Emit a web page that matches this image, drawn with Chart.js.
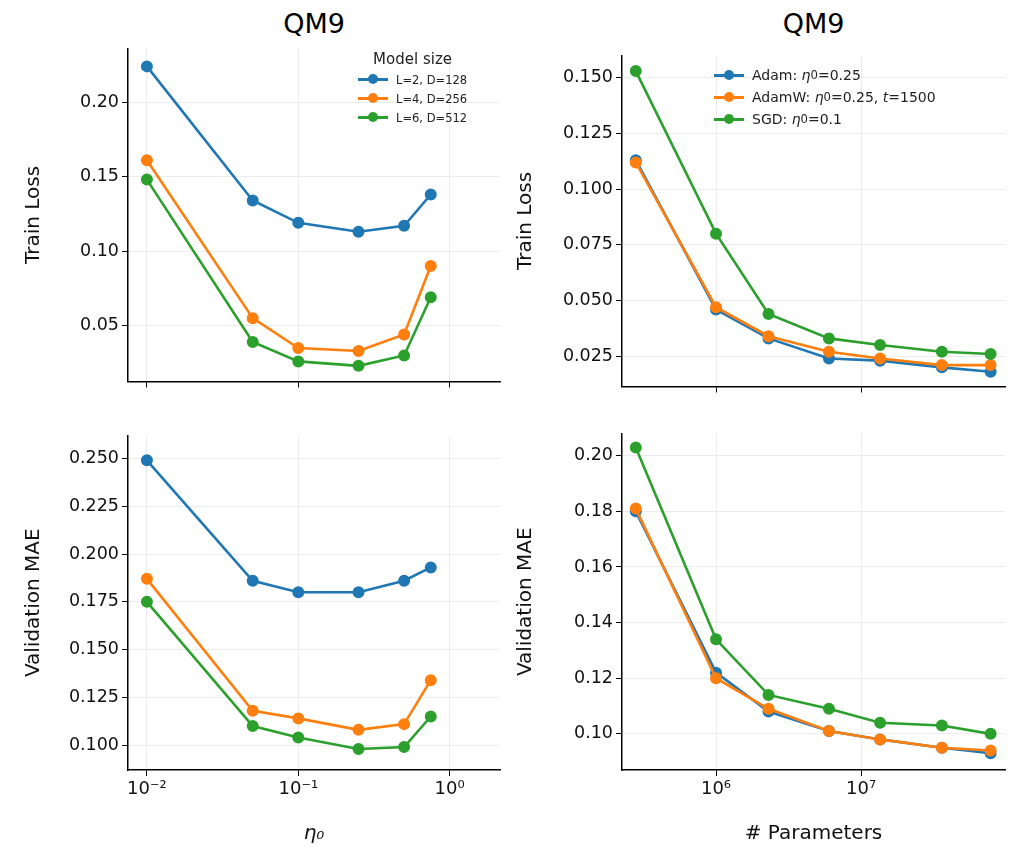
<!DOCTYPE html>
<html>
<head>
<meta charset="utf-8">
<script src="https://cdn.jsdelivr.net/npm/chart.js@4"></script>
<style>
  body { margin: 0; background: #fff; font-family: "DejaVu Sans", sans-serif; }
  #wrap { position: relative; width: 1024px; height: 857px; }
  canvas { position: absolute; }
  .title { position: absolute; top: 8px; font-size: 27px; text-align: center; }
  .legend { position: absolute; font-size: 13px; color: #222; }
  .legend .row { display: flex; align-items: center; height: 19px; }
  .legend .sw { position: relative; width: 30px; height: 3px; margin-right: 8px; }
  .legend .sw::after { content: ""; position: absolute; left: 10px; top: -4px; width: 10px; height: 10px; border-radius: 50%; background: inherit; }
</style>
</head>
<body>
<div id="wrap">
  <div class="title" style="left:128px;width:372px">QM9</div>
  <div class="title" style="left:622px;width:383px">QM9</div>
  <canvas id="tl" style="left:18px;top:35px" width="492" height="360"></canvas>
  <canvas id="bl" style="left:18px;top:422px" width="492" height="428"></canvas>
  <canvas id="tr" style="left:510px;top:42px" width="505" height="358"></canvas>
  <canvas id="br" style="left:510px;top:420px" width="505" height="430"></canvas>
  <div class="legend" style="left:358px;top:50px;font-size:11.5px">
    <div style="text-align:center;font-size:15px;margin-bottom:2px">Model size</div>
    <div class="row"><span class="sw" style="background:#1f77b4"></span>L=2, D=128</div>
    <div class="row"><span class="sw" style="background:#ff7f0e"></span>L=4, D=256</div>
    <div class="row"><span class="sw" style="background:#2ca02c"></span>L=6, D=512</div>
  </div>
  <div class="legend" style="left:714px;top:64px;font-size:14px">
    <div class="row" style="height:22px"><span class="sw" style="background:#1f77b4"></span>Adam: <i>&nbsp;η</i><sub>0</sub>=0.25</div>
    <div class="row" style="height:22px"><span class="sw" style="background:#ff7f0e"></span>AdamW: <i>&nbsp;η</i><sub>0</sub>=0.25, <i>&nbsp;t</i>=1500</div>
    <div class="row" style="height:22px"><span class="sw" style="background:#2ca02c"></span>SGD: <i>&nbsp;η</i><sub>0</sub>=0.1</div>
  </div>
</div>
<script>
const etas = [0.01, 0.05, 0.1, 0.25, 0.5, 0.75]
const lossL2 = [0.224, 0.134, 0.119, 0.113, 0.117, 0.138]
const lossL4 = [0.161, 0.055, 0.035, 0.033, 0.044, 0.090]
const lossL6 = [0.148, 0.039, 0.026, 0.023, 0.030, 0.069]
const maeL2 = [0.249, 0.186, 0.180, 0.180, 0.186, 0.193]
const maeL4 = [0.187, 0.118, 0.114, 0.108, 0.111, 0.134]
const maeL6 = [0.175, 0.110, 0.104, 0.098, 0.099, 0.115]

const params = [2.8e5, 1e6, 2.3e6, 6e6, 1.35e7, 3.6e7, 7.8e7]
const lossAdam = [0.113, 0.046, 0.033, 0.024, 0.023, 0.020, 0.018]
const lossAdamW = [0.112, 0.047, 0.034, 0.027, 0.024, 0.021, 0.021]
const lossSGD = [0.153, 0.080, 0.044, 0.033, 0.030, 0.027, 0.026]
const maeAdam = [0.180, 0.122, 0.108, 0.101, 0.098, 0.095, 0.093]
const maeAdamW = [0.181, 0.120, 0.109, 0.101, 0.098, 0.095, 0.094]
const maeSGD = [0.203, 0.134, 0.114, 0.109, 0.104, 0.103, 0.100]

const etaTicks = [0.01, 0.1, 1]
const etaLabels = ["10⁻²", "10⁻¹", "10⁰"]
const paramTicks = [1e6, 1e7]
const paramLabels = ["10⁶", "10⁷"]

const colors = ["#1f77b4", "#ff7f0e", "#2ca02c"]
const font = "'DejaVu Sans', sans-serif"

function panel(id, xs, series, o) {
  const datasets = series.map((ys, i) => ({
    data: xs.map((x, j) => ({ x: x, y: ys[j] })),
    borderColor: colors[i], backgroundColor: colors[i],
    borderWidth: 2.6, pointRadius: 4.7, pointHoverRadius: 4.7, order: 3 - i,
  }))
  return new Chart(document.getElementById(id), {
    type: "line",
    data: { datasets: datasets },
    options: {
      responsive: false, animation: false,
      layout: { padding: { top: 10, right: 10 } },
      plugins: { legend: { display: false }, tooltip: { enabled: false } },
      scales: {
        x: {
          type: "logarithmic", min: o.xmin, max: o.xmax,
          afterBuildTicks: ax => { ax.ticks = o.xticks.map(v => ({ value: v })) },
          afterFit: ax => { ax.height = o.showX ? 80 : 10 },
          ticks: {
            autoSkip: false, maxRotation: 0, color: "#111",
            font: { family: font, size: 18 },
            callback: (v) => o.showX ? o.xlabels[o.xticks.indexOf(v)] : ""
          },
          grid: { color: "#ececec", tickColor: "#000", tickLength: 6 },
          border: { color: "#000", width: 1.5 },
          title: { display: o.showX, text: o.xtitle, color: "#111", font: { family: font, size: 20, style: o.xitalic ? "italic" : "normal" } }
        },
        y: {
          min: o.ymin, max: o.ymax,
          afterBuildTicks: ax => { ax.ticks = o.yticks.map(v => ({ value: v })) },
          afterFit: ax => { ax.width = o.yw },
          ticks: { color: "#111", font: { family: font, size: 17.5 }, callback: v => v.toFixed(o.dec) },
          grid: { color: "#ececec", tickColor: "#000", tickLength: 6 },
          border: { color: "#000", width: 1.5 },
          title: { display: true, text: o.ytitle, color: "#111", font: { family: font, size: 20 } }
        }
      }
    }
  })
}

const leftX = { xmin: 0.0075, xmax: 2.15, xticks: etaTicks, xlabels: etaLabels, xtitle: "η₀", xitalic: true, yw: 110 }
const rightX = { xmin: 2.25e5, xmax: 9.8e7, xticks: paramTicks, xlabels: paramLabels, xtitle: "# Parameters", xitalic: false, yw: 112 }

panel("tl", etas, [lossL2, lossL4, lossL6], Object.assign({}, leftX, {
  showX: false, ymin: 0.0125, ymax: 0.236, yticks: [0.05, 0.10, 0.15, 0.20], dec: 2, ytitle: "Train Loss"
}))
panel("bl", etas, [maeL2, maeL4, maeL6], Object.assign({}, leftX, {
  showX: true, ymin: 0.087, ymax: 0.262, yticks: [0.1, 0.125, 0.15, 0.175, 0.2, 0.225, 0.25], dec: 3, ytitle: "Validation MAE"
}))
panel("tr", params, [lossAdam, lossAdamW, lossSGD], Object.assign({}, rightX, {
  showX: false, ymin: 0.0114, ymax: 0.160, yticks: [0.025, 0.05, 0.075, 0.1, 0.125, 0.15], dec: 3, ytitle: "Train Loss"
}))
panel("br", params, [maeAdam, maeAdamW, maeSGD], Object.assign({}, rightX, {
  showX: true, ymin: 0.087, ymax: 0.208, yticks: [0.1, 0.12, 0.14, 0.16, 0.18, 0.2], dec: 2, ytitle: "Validation MAE"
}))
</script>
</body>
</html>
